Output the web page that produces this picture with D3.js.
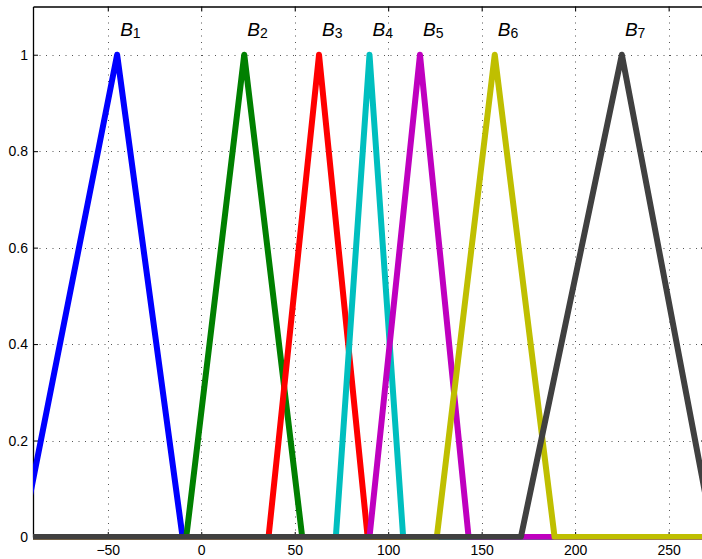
<!DOCTYPE html>
<html>
<head>
<meta charset="utf-8">
<script src="https://cdn.jsdelivr.net/npm/d3@7"></script>
<style>
  body { margin: 0; background: #fff; }
  svg { display: block; font-family: "Liberation Sans", Arial, Helvetica, sans-serif; }
  .axis text { font-size: 14px; fill: #000; }
  .axis path, .axis line { stroke: #000; }
</style>
</head>
<body>
<div id="chart"></div>
<script>
// membership functions: left foot, peak, right foot
var names = ['1', '2', '3', '4', '5', '6', '7'];
var leftFoot  = [-96, -8, 36, 72, 90, 126, 171];
var peaks     = [-45, 23, 63, 90, 117, 157, 225];
var rightFoot = [-10, 54, 89, 108, 143, 189, 274];
var colors = ['#0000ff', '#008000', '#ff0000', '#00bfbf', '#bf00bf', '#bfbf00', '#404040'];

var xTicks = [-50, 0, 50, 100, 150, 200, 250];
var yTicks = [0, 0.2, 0.4, 0.6, 0.8, 1];
var xDomain = [-90, 270],
    yDomain = [0, 1.1];

var chartWidth = 702, chartHeight = 559;
var plotLeft = 33, plotRight = 706, plotTop = 6.5, plotBottom = 537;

var svg = d3.select("#chart")
            .append("svg")
            .attr("width", chartWidth)
            .attr("height", chartHeight);

var x = d3.scaleLinear().domain(xDomain).range([plotLeft, plotRight]);
var y = d3.scaleLinear().domain(yDomain).range([plotBottom, plotTop]);

// dotted grid
var grid = svg.append("g").attr("stroke", "#555").attr("stroke-width", 1).attr("stroke-dasharray", "1,5.5");
grid.selectAll(".gx").data(xTicks).enter().append("line")
    .attr("x1", d => Math.round(x(d)) + 0.5).attr("x2", d => Math.round(x(d)) + 0.5)
    .attr("y1", plotBottom).attr("y2", plotTop);
grid.selectAll(".gy").data(yTicks.slice(1)).enter().append("line")
    .attr("y1", d => Math.round(y(d)) + 0.5).attr("y2", d => Math.round(y(d)) + 0.5)
    .attr("x1", plotLeft).attr("x2", plotRight);

// axes, ticks point inwards like matlab
svg.append("g").attr("class", "axis").attr("transform", "translate(0," + plotBottom + ")")
   .call(d3.axisBottom(x).tickValues(xTicks).tickSizeInner(-5).tickSizeOuter(0).tickPadding(8));
svg.append("g").attr("class", "axis").attr("transform", "translate(" + plotLeft + ",0)")
   .call(d3.axisLeft(y).tickValues(yTicks).tickFormat(d3.format("~g")).tickSizeInner(-5).tickSizeOuter(0).tickPadding(5));
svg.append("g").attr("class", "axis").attr("transform", "translate(0," + plotTop + ")")
   .call(d3.axisTop(x).tickValues(xTicks).tickFormat("").tickSizeInner(-5).tickSizeOuter(0));
svg.append("g").attr("class", "axis").attr("transform", "translate(" + plotRight + ",0)")
   .call(d3.axisRight(y).tickValues(yTicks).tickFormat("").tickSizeInner(-5).tickSizeOuter(0));
svg.selectAll(".axis path").attr("stroke-width", 1.3);

// clip the curves to the x limits
svg.append("clipPath").attr("id", "clip")
   .append("rect").attr("x", plotLeft).attr("y", 0).attr("width", plotRight - plotLeft).attr("height", plotBottom + 2.5);

var line = d3.line().x(d => x(d[0])).y(d => y(d[1]));

var curves = names.map(function(n, i) {
    return [[xDomain[0], 0], [leftFoot[i], 0], [peaks[i], 1], [rightFoot[i], 0], [xDomain[1], 0]];
});

svg.append("g").attr("clip-path", "url(#clip)")
   .selectAll("path").data(curves).enter().append("path")
   .attr("d", line)
   .attr("fill", "none")
   .attr("stroke", (d, i) => colors[i])
   .attr("stroke-width", 6)
   .attr("stroke-linejoin", "round");

// B_i labels above each peak
var labels = svg.append("g").selectAll("text").data(names).enter().append("text")
    .attr("x", (d, i) => x(peaks[i]) + 3)
    .attr("y", 36)
    .attr("font-size", 19)
    .attr("fill", "#000");
labels.append("tspan").attr("font-style", "italic").text("B");
labels.append("tspan").attr("font-size", 14).attr("dy", 2).text(d => d);
</script>
</body>
</html>
